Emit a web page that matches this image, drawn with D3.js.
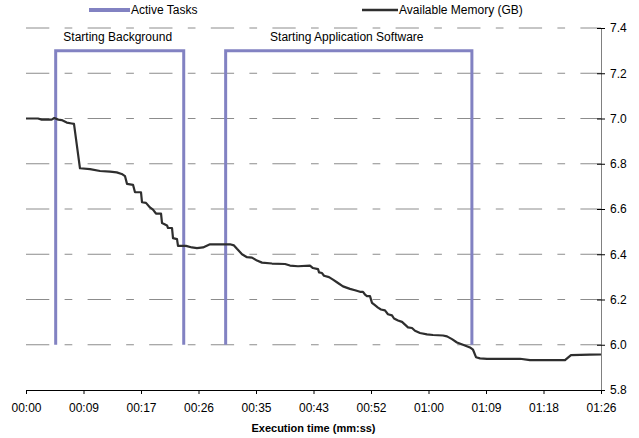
<!DOCTYPE html>
<html lang="en">
<head>
    <meta charset="UTF-8">
    <title>Active Tasks vs Available Memory</title>
    <script src="https://cdnjs.cloudflare.com/ajax/libs/d3/7.8.5/d3.min.js"></script>
    <style>
        body { margin: 0; background: #fff; }
        svg { display: block; font-family: "Liberation Sans", Arial, sans-serif; }
    </style>
</head>
<body>
    <div id="chart"></div>
    <script>
        // execution time in seconds, memory in GB
        const timeSec = [0, 1.8, 2.36, 3.86, 4.25, 4.85, 5.36, 6.12, 6.87, 7.21, 8.11, 9.62, 11.12, 12.62, 13.63, 14.38,
            14.88, 15.18, 16.08, 16.38, 17.28, 17.43, 18.03, 18.63, 19.08, 19.53, 20.29, 20.44, 21.19, 21.34, 21.94,
            22.09, 22.69, 22.84, 24.04, 24.94, 25.69, 26.6, 27.65, 30.65, 31.25, 31.7, 32.46, 33.21, 33.96, 34.71,
            35.46, 36.96, 38.92, 39.67, 40.87, 42.67, 43.12, 43.88, 44.03, 44.48, 44.78, 45.53, 46.13, 46.88, 47.63,
            48.68, 49.44, 50.19, 50.64, 50.94, 51.24, 51.69, 51.99, 52.29, 52.89, 53.34, 53.94, 54.39, 54.99, 55.3,
            55.9, 56.5, 56.95, 57.4, 58.0, 58.45, 59.2, 60.25, 61.16, 62.66, 63.26, 64.01, 64.76, 65.66, 66.71,
            67.17, 67.62, 68.22, 69.27, 74.23, 75.73, 80.99, 81.89, 84.74, 86.4];
        const memoryGB = [7.0, 7.0, 6.995, 6.995, 7.002, 6.995, 6.993, 6.982, 6.978, 6.976, 6.78, 6.776, 6.768, 6.765, 6.762, 6.755,
            6.745, 6.711, 6.707, 6.674, 6.674, 6.63, 6.627, 6.607, 6.597, 6.58, 6.58, 6.538, 6.527, 6.516, 6.516,
            6.471, 6.467, 6.437, 6.437, 6.43, 6.427, 6.43, 6.444, 6.444, 6.439, 6.424, 6.4, 6.387, 6.385, 6.372,
            6.363, 6.359, 6.357, 6.35, 6.347, 6.35, 6.339, 6.334, 6.32, 6.317, 6.305, 6.299, 6.288, 6.273, 6.258,
            6.247, 6.241, 6.234, 6.234, 6.222, 6.215, 6.215, 6.185, 6.178, 6.164, 6.156, 6.152, 6.135, 6.13, 6.116,
            6.107, 6.101, 6.089, 6.077, 6.074, 6.062, 6.052, 6.046, 6.043, 6.041, 6.037, 6.025, 6.01, 6.0, 5.988,
            5.978, 5.945, 5.94, 5.938, 5.938, 5.932, 5.932, 5.954, 5.956, 5.957];

        // active task windows (seconds) and their level on the chart
        const taskNames = ["Starting Background", "Starting Application Software"];
        const taskStart = [4.46, 30.0];
        const taskEnd = [23.7, 67.0];
        const taskLow = 6.0;
        const taskHigh = 7.3;

        const xTickValues = [0, 8.64, 17.28, 25.92, 34.56, 43.2, 51.84, 60.48, 69.12, 77.76, 86.4];
        const xTickLabels = ["00:00", "00:09", "00:17", "00:26", "00:35", "00:43", "00:52", "01:00", "01:09", "01:18", "01:26"];
        const yTickValues = [5.8, 6.0, 6.2, 6.4, 6.6, 6.8, 7.0, 7.2, 7.4];
        const legendNames = ["Active Tasks", "Available Memory (GB)"];

        const W = 639, H = 438;
        const margin = { left: 26, right: 38, top: 28, bottom: 48 };
        const purple = "#8282c2";
        const ink = "#2e2e2e";

        const svg = d3.select("#chart").append("svg")
            .attr("width", W)
            .attr("height", H);

        const x = d3.scaleLinear().domain([0, 86.4]).range([margin.left, W - margin.right]);
        const y = d3.scaleLinear().domain([5.8, 7.4]).range([H - margin.bottom, margin.top]);

        // dashed gridlines
        svg.append("g")
            .selectAll("line")
            .data(yTickValues.filter(v => v > 5.8))
            .join("line")
            .attr("x1", x(0))
            .attr("x2", x(86.4))
            .attr("y1", d => y(d))
            .attr("y2", d => y(d))
            .attr("stroke", "#8c8c8c")
            .attr("stroke-width", 1)
            .attr("stroke-dasharray", "23.3,15.3,7.7,15.3");

        // right axis
        const yAxis = d3.axisRight(y)
            .tickValues(yTickValues)
            .tickFormat(d3.format(".1f"))
            .tickSizeInner(4)
            .tickSizeOuter(0)
            .tickPadding(5);
        const gy = svg.append("g")
            .attr("transform", `translate(${x(86.4)},0)`)
            .call(yAxis);
        gy.select(".domain").attr("stroke", "#808080");
        gy.selectAll(".tick line").attr("x1", -4).attr("stroke", "#000");
        gy.selectAll(".tick text").attr("font-size", 12).attr("fill", "#000")
            .attr("font-family", "Liberation Sans, Arial, sans-serif");

        // bottom axis
        const xAxis = d3.axisBottom(x)
            .tickValues(xTickValues)
            .tickFormat((d, i) => xTickLabels[i])
            .tickSizeInner(4)
            .tickSizeOuter(0)
            .tickPadding(9);
        const gx = svg.append("g")
            .attr("transform", `translate(0,${y(5.8)})`)
            .call(xAxis);
        gx.select(".domain").attr("stroke", "#000");
        gx.selectAll(".tick line").attr("stroke", "#000");
        gx.selectAll(".tick text").attr("font-size", 12).attr("fill", "#000")
            .attr("font-family", "Liberation Sans, Arial, sans-serif");

        svg.append("text")
            .attr("x", (x(0) + x(86.4)) / 2)
            .attr("y", 432)
            .attr("text-anchor", "middle")
            .attr("font-size", 11)
            .attr("font-weight", "bold")
            .text("Execution time (mm:ss)");

        // active task boxes
        const taskLine = d3.line().x(d => x(d[0])).y(d => y(d[1]));
        taskNames.forEach((name, i) => {
            const pts = [[taskStart[i], taskLow], [taskStart[i], taskHigh], [taskEnd[i], taskHigh], [taskEnd[i], taskLow]];
            svg.append("path")
                .attr("d", taskLine(pts))
                .attr("fill", "none")
                .attr("stroke", purple)
                .attr("stroke-width", 3);
            svg.append("text")
                .attr("x", (x(taskStart[i]) + x(taskEnd[i])) / 2 - 2)
                .attr("y", 41)
                .attr("text-anchor", "middle")
                .attr("font-size", 12)
                .text(name);
        });

        // memory line
        const memLine = d3.line()
            .x((d, i) => x(timeSec[i]))
            .y(d => y(d));
        svg.append("path")
            .attr("d", memLine(memoryGB))
            .attr("fill", "none")
            .attr("stroke", ink)
            .attr("stroke-width", 2.2)
            .attr("stroke-linejoin", "round");

        // legend
        const legend = [
            { name: legendNames[0], x1: 89, x2: 130, color: purple, w: 4 },
            { name: legendNames[1], x1: 362, x2: 398, color: ink, w: 2.5 }
        ];
        legend.forEach(l => {
            svg.append("line")
                .attr("x1", l.x1).attr("x2", l.x2)
                .attr("y1", 10).attr("y2", 10)
                .attr("stroke", l.color)
                .attr("stroke-width", l.w);
            svg.append("text")
                .attr("x", l.x2 + 1)
                .attr("y", 14)
                .attr("font-size", 12)
                .text(l.name);
        });
    </script>
</body>
</html>
